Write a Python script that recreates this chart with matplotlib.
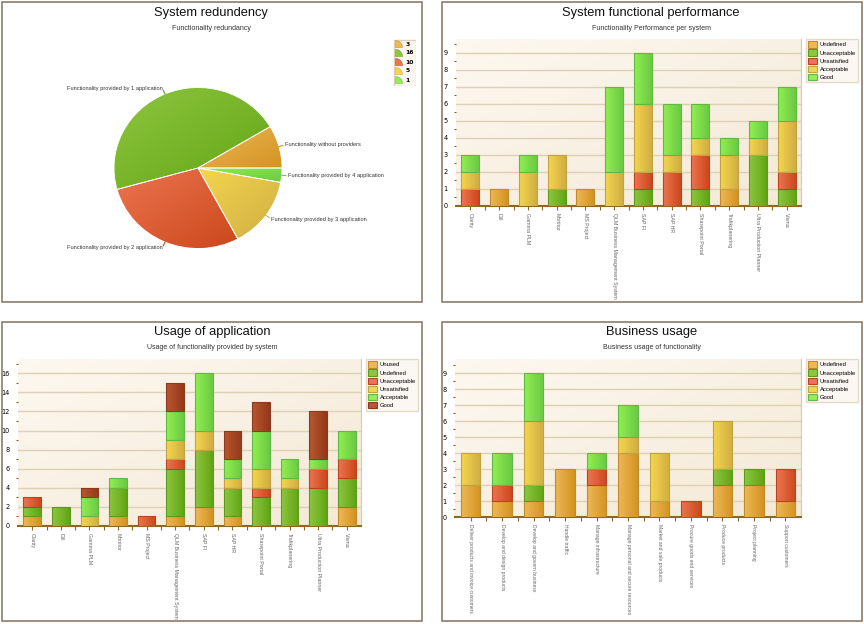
import numpy as np
import matplotlib
matplotlib.use('Agg')
import matplotlib.pyplot as plt
from matplotlib.colors import LinearSegmentedColormap
from matplotlib.patches import Rectangle, Wedge, Patch

# ---------------- data ----------------
pie_labels = ['Functionality without providers',
              'Functionality provided by 1 application',
              'Functionality provided by 2 application',
              'Functionality provided by 3 application',
              'Functionality provided by 4 application']
pie_values = [3, 16, 10, 5, 1]

systems = ['Clarity', 'Dill', 'Gamma PLM', 'Monitor', 'MS Project',
           'QLM Business Management System', 'SAP FI', 'SAP HR',
           'Sharepoint Portal', 'Trafikplanering', 'Ultra Production Planner', 'Visma']

perf_names = ['Undefined', 'Unacceptable', 'Unsatisfied', 'Acceptable', 'Good']
perf_undefined = [0, 1, 0, 0, 1, 0, 0, 0, 0, 1, 0, 0]
perf_unacceptable = [0, 0, 0, 1, 0, 0, 1, 0, 1, 0, 3, 1]
perf_unsatisfied = [1, 0, 0, 0, 0, 0, 1, 2, 2, 0, 0, 1]
perf_acceptable = [1, 0, 2, 2, 0, 2, 4, 1, 1, 2, 1, 3]
perf_good = [1, 0, 1, 0, 0, 5, 3, 3, 2, 1, 1, 2]

usage_names = ['Unused', 'Undefined', 'Unacceptable', 'Unsatisfied', 'Acceptable', 'Good']
usage_unused = [1, 0, 0, 1, 0, 1, 2, 1, 0, 0, 0, 2]
usage_undefined = [1, 2, 0, 3, 0, 5, 6, 3, 3, 4, 4, 3]
usage_unacceptable = [1, 0, 0, 0, 1, 1, 0, 0, 1, 0, 2, 2]
usage_unsatisfied = [0, 0, 1, 0, 0, 2, 2, 1, 2, 1, 0, 0]
usage_acceptable = [0, 0, 2, 1, 0, 3, 6, 2, 4, 2, 1, 3]
usage_good = [0, 0, 1, 0, 0, 3, 0, 3, 3, 0, 5, 0]

processes = ['Deliver products and invoice customers', 'Develop and design products',
             'Develop and govern business', 'Handle traffic', 'Manage infrastructure',
             'Manage personal and secure resources', 'Market and sale products',
             'Procure goods and services', 'Produce products', 'Project planning',
             'Support customers']
bus_undefined = [2, 1, 1, 3, 2, 4, 1, 0, 2, 2, 1]
bus_unacceptable = [0, 0, 1, 0, 0, 0, 0, 0, 1, 1, 0]
bus_unsatisfied = [0, 1, 0, 0, 1, 0, 0, 1, 0, 0, 2]
bus_acceptable = [2, 0, 4, 0, 0, 1, 3, 0, 3, 0, 0]
bus_good = [0, 2, 3, 0, 1, 2, 0, 0, 0, 0, 0]

# colour styles: (light, dark, edge)
ORANGE = ('#EEB858', '#D39320', '#C08B2E')
DGREEN = ('#8EC640', '#62A414', '#5E9A22')
RED = ('#EC7550', '#CC481C', '#B84422')
YELLOW = ('#F4D64E', '#D0AE42', '#C2A244')
LGREEN = ('#92EE52', '#6ACA42', '#62B844')
BROWN = ('#B85832', '#953818', '#8A3A1E')

W, H = 864, 624
fig = plt.figure(figsize=(W / 100, H / 100), dpi=100)
fig.patch.set_facecolor('white')


def axes_px(l, t, r, b):
    return fig.add_axes([l / W, 1 - b / H, (r - l) / W, (b - t) / H])


for (l, t, r, b) in [(2, 2, 422, 302), (442, 2, 862, 302), (2, 322, 422, 621), (442, 322, 862, 621)]:
    fig.add_artist(Rectangle((l / W, 1 - b / H), (r - l) / W, (b - t) / H,
                             transform=fig.transFigure, fill=False, ec='#8C7B6B', lw=1.2))

TFONT = ['Liberation Sans', 'DejaVu Sans']


def titles(cx, ty, title, sub):
    fig.text(cx / W, 1 - ty / H, title, ha='center', va='center', fontsize=9.3,
             family=TFONT, color='#111111')
    fig.text(cx / W, 1 - (ty + 15.5) / H, sub, ha='center', va='center', fontsize=5,
             family=TFONT, color='#333333')


def cmap2(c1, c2):
    return LinearSegmentedColormap.from_list('g', [c1, c2])


def stacked(ax, cats, series, styles, ymax, ystep, lblsize):
    x = np.arange(len(cats))
    bottom = np.zeros(len(cats))
    for vals, (c1, c2, ec) in zip(series, styles):
        vals = np.array(vals, float)
        bars = ax.bar(x, vals, 0.62, bottom=bottom, color=c1, edgecolor=ec, lw=0.8, zorder=3)
        for bar, v in zip(bars, vals):
            if v <= 0:
                bar.set_visible(False)
                continue
            x0, y0 = bar.get_xy()
            im = ax.imshow(np.linspace(0, 1, 32).reshape(1, -1), cmap=cmap2(c1, c2),
                           extent=[x0, x0 + bar.get_width(), y0, y0 + bar.get_height()],
                           aspect='auto', interpolation='bilinear', zorder=2.9)
            im.set_clip_path(bar)
            bar.set_facecolor('none')
        bottom += vals
    # background gradient
    gx, gy = np.meshgrid(np.linspace(0, 1, 64), np.linspace(0, 1, 64))
    ax.imshow((gx + gy) / 2, cmap=cmap2('#FDF8F0', '#F4E9D6'), extent=[0, 1, 0, 1],
              transform=ax.transAxes, aspect='auto', zorder=0, interpolation='bilinear')
    ax.set_xlim(-0.5, len(cats) - 0.5)
    ax.set_ylim(0, ymax)
    ax.set_yticks(np.arange(0, ymax, ystep))
    ax.set_yticks(np.arange(ystep / 2, ymax, ystep), minor=True)
    ax.set_xticks(x)
    ax.set_xticks(x[:-1] + 0.5, minor=True)
    ax.set_xticklabels(cats, rotation=-90, fontsize=lblsize, color='#666666', family=TFONT)
    ax.tick_params(axis='x', which='both', length=3, width=0.8, color='#8B6A20', pad=2)
    ax.tick_params(axis='y', which='major', length=0, labelsize=4.7, pad=6, labelcolor='black')
    ax.tick_params(axis='y', which='minor', length=1.5, width=0.8, color='#8B5A20')
    ax.yaxis.grid(True, color='#DDD0B5', lw=1)
    ax.set_axisbelow(True)
    for s in ['top', 'left']:
        ax.spines[s].set_visible(False)
    ax.spines['right'].set_color('#D9C9A9')
    ax.spines['bottom'].set_color('#8B6A20')
    ax.spines['bottom'].set_linewidth(1.5)


def legend(names, styles, l, t):
    handles = [Patch(facecolor=s[0], edgecolor=s[2], lw=0.8) for s in styles]
    leg = fig.legend(handles, names, loc='upper left', bbox_to_anchor=(l / W, 1 - t / H),
                     bbox_transform=fig.transFigure, prop=dict(size=4.2, family=TFONT),
                     frameon=True, fancybox=False,
                     handlelength=1.4, handleheight=1.3, labelspacing=0.3, borderpad=0.4,
                     handletextpad=0.6, borderaxespad=0)
    fr = leg.get_frame()
    fr.set_facecolor('#FBF7F0')
    fr.set_edgecolor('#E0D2BA')
    fr.set_linewidth(1)


# ---------------- panel 1: pie ----------------
titles(211, 13, 'System redundency', 'Functionality redundancy')
axp = axes_px(78, 48, 318, 288)
pie_styles = [ORANGE, DGREEN, RED, YELLOW, LGREEN]
wedges, texts = axp.pie(pie_values, labels=pie_labels, startangle=0, counterclock=True,
                        labeldistance=1.08, colors=[s[0] for s in pie_styles],
                        wedgeprops=dict(edgecolor='#FFFFFF', lw=0.6),
                        textprops=dict(fontsize=4.1, color='#333333', family=TFONT))
gx, gy = np.meshgrid(np.linspace(0, 1, 64), np.linspace(0, 1, 64))
for w, s in zip(wedges, pie_styles):
    ext = w.get_path().get_extents()
    im = axp.imshow((gx + gy) / 2, cmap=cmap2(s[0], s[1]),
                    extent=[ext.x0, ext.x1, ext.y0, ext.y1], aspect='auto',
                    interpolation='bilinear', zorder=w.get_zorder() - 0.01)
    im.set_clip_path(w)
    w.set_facecolor('none')
    a = np.deg2rad((w.theta1 + w.theta2) / 2)
    axp.plot([np.cos(a), 1.05 * np.cos(a)], [np.sin(a), 1.05 * np.sin(a)], color=s[1], lw=0.8)
axp.set_xlim(-120 / 84, 120 / 84)
axp.set_ylim(-120 / 80.5, 120 / 80.5)
axp.set_aspect('auto')
axp.axis('off')

# pie legend
axl = axes_px(393, 39, 416, 86)
axl.set_xlim(0, 23)
axl.set_ylim(47, 0)
axl.axis('off')
axl.add_patch(Rectangle((0.5, 0.5), 22, 46, facecolor='#FBF7F0', edgecolor='#DDD0B8', lw=1))
for i, (v, s) in enumerate(zip(pie_values, pie_styles)):
    yb = 8.5 + 9 * i
    axl.add_patch(Wedge((2.5, yb), 7, -90, 0, facecolor=s[0], edgecolor=s[1], lw=0.4))
    axl.text(12.5, yb - 3.5, str(v), fontsize=4.3, va='center', ha='left', color='black',
             fontweight='bold')

# ---------------- panel 2 ----------------
titles(651, 13, 'System functional performance', 'Functionality Performance per system')
ax2 = axes_px(456, 39, 801, 206)
stacked(ax2, systems, [perf_undefined, perf_unacceptable, perf_unsatisfied, perf_acceptable, perf_good],
        [ORANGE, DGREEN, RED, YELLOW, LGREEN], 9.8, 1, 3.75)
legend(perf_names, [ORANGE, DGREEN, RED, YELLOW, LGREEN], 806, 39)

# ---------------- panel 3 ----------------
titles(212, 332, 'Usage of application', 'Usage of functionality provided by system')
ax3 = axes_px(18, 359, 361, 526)
usage_styles = [ORANGE, DGREEN, RED, YELLOW, LGREEN, BROWN]
stacked(ax3, systems, [usage_unused, usage_undefined, usage_unacceptable, usage_unsatisfied,
                       usage_acceptable, usage_good], usage_styles, 17.5, 2, 3.75)
legend(usage_names, usage_styles, 366, 359)

# ---------------- panel 4 ----------------
titles(652, 332, 'Business usage', 'Business usage of functionality')
ax4 = axes_px(455, 359, 801, 517)
stacked(ax4, processes, [bus_undefined, bus_unacceptable, bus_unsatisfied, bus_acceptable, bus_good],
        [ORANGE, DGREEN, RED, YELLOW, LGREEN], 9.9, 1, 3.6)
legend(perf_names, [ORANGE, DGREEN, RED, YELLOW, LGREEN], 806, 359)

fig.savefig('out.png', dpi=100, facecolor='white')
